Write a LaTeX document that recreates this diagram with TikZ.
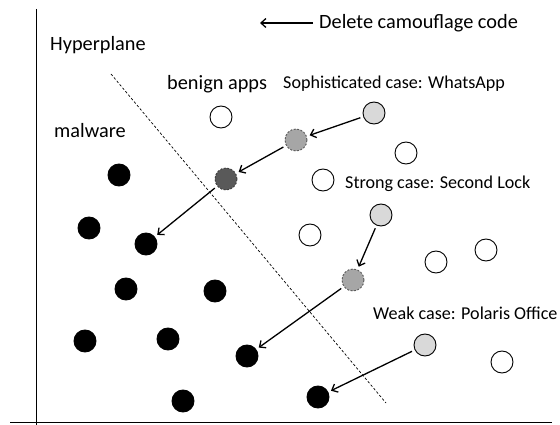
\documentclass[tikz,border=0pt]{standalone}
\usepackage{fontspec}
\setmainfont{Carlito}
\usetikzlibrary{arrows.meta,calc}

\definecolor{lightdot}{HTML}{D9D9D9}
\definecolor{middot}{HTML}{A6A6A6}
\definecolor{darkdot}{HTML}{595959}

\begin{document}
\begin{tikzpicture}
  [
    x=1pt, y=-1pt,
    dot/.style =
      {circle, draw, line width=0.9pt, minimum size=22pt, inner sep=0pt},
    mal/.style =
      {dot, fill=black},
    ben/.style =
      {dot, fill=white},
    app/.style =
      {dot, fill=lightdot},
    moved/.style =
      {dot, fill=middot, draw=darkdot, dashed, dash pattern=on 2pt off 1.5pt},
    mix/.style =
      {dot, fill=darkdot, draw=darkdot!70!black, dashed, dash pattern=on 2pt off 1.5pt},
    move/.style =
      {-{Straight Barb[length=5pt,width=9pt]}, line width=1.3pt,
       shorten <=3pt, shorten >=3pt},
    big/.style =
      {anchor=west, inner sep=0pt, font=\fontsize{20.3}{24}\selectfont},
    small/.style =
      {anchor=west, inner sep=0pt, font=\fontsize{18.1}{22}\selectfont}
  ]

\useasboundingbox (0,0) rectangle (560,425);

% axes
\coordinate (ytop) at (36,9);
\coordinate (ybot) at (36,425);
\coordinate (xl) at (10,422);
\coordinate (xr) at (552,422);
\draw [line width=1pt] (ytop) -- (ybot);
\draw [line width=1pt] (xl) -- (xr);

% hyperplane
\coordinate (h1) at (111,74);
\coordinate (h2) at (386,403);
\draw [dashed, dash pattern=on 2.5pt off 2pt, line width=0.7pt] (h1) -- (h2);

% legend
\node[big] (legtext) at (319,23) {Delete camouflage code};
\coordinate (legstart) at (313,23);
\draw [-{Straight Barb[length=5pt,width=9pt]}, line width=1.3pt]
  (legstart) -- ++(-53,0);

% labels
\node[big] (hyp) at (50,45) {Hyperplane};
\node[big] (mw) at (54,131) {malware};
\node[big] (bn) at (167,84) {benign apps};
\node[small] (soph) at (283,84) {Sophisticated case: WhatsApp};
\node[small] (strong) at (345,184) {Strong case: Second Lock};
\node[small] (weak) at (373,313) {Weak case: Polaris Office};

% malware
\node[mal] (m1) at (119,175) {};
\node[mal] (m2) at (89,228) {};
\node[mal] (m3) at (146,244) {};
\node[mal] (m4) at (126,289) {};
\node[mal] (m5) at (215,291) {};
\node[mal] (m6) at (85,341) {};
\node[mal] (m7) at (168,339) {};
\node[mal] (m8) at (247,356) {};
\node[mal] (m9) at (183,401) {};
\node[mal] (m10) at (318,397) {};

% benign apps
\node[ben] (b1) at (221,117) {};
\node[ben] (b2) at (406,153) {};
\node[ben] (b3) at (323,180) {};
\node[ben] (b4) at (310,235) {};
\node[ben] (b5) at (436,262) {};
\node[ben] (b6) at (486,250) {};
\node[ben] (b7) at (502,362) {};

% whatsapp
\node[app] (wa) at (374,113) {};
\node[moved] (wa1) at (296,140) {};
\node[mix] (wa2) at (226,179) {};
\draw [move] (wa) -- (wa1);
\draw [move] (wa1) -- (wa2);
\draw [move] (wa2) -- (m3);

% second lock
\node[app] (sl) at (381,215) {};
\node[moved] (sl1) at (353,280) {};
\draw [move] (sl) -- (sl1);
\draw [move] (sl1) -- (m8);

% polaris office
\node[app] (po) at (425,345) {};
\draw [move] (po) -- (m10);
\end{tikzpicture}
\end{document}
